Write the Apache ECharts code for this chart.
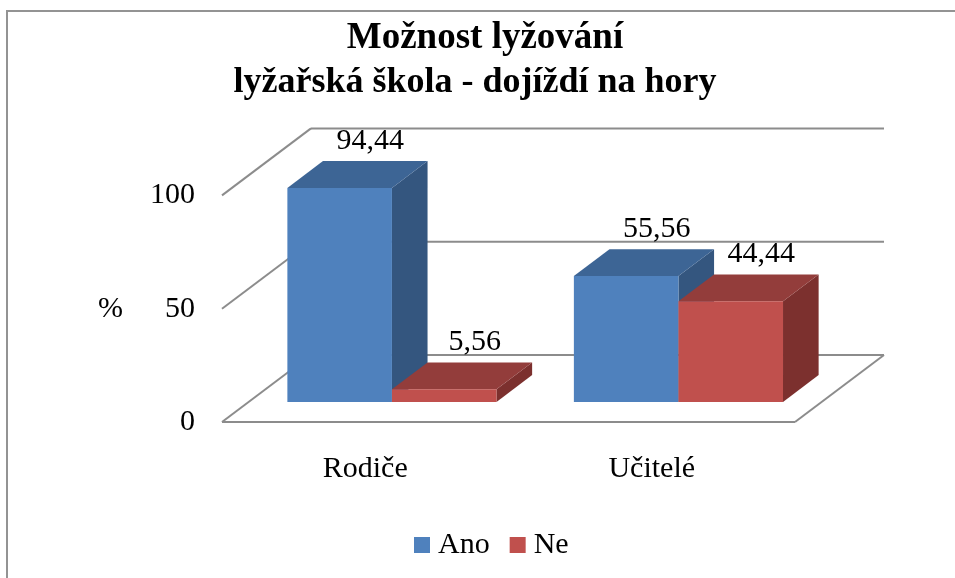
<!DOCTYPE html>
<html><head><meta charset="utf-8">
<script src="https://cdn.jsdelivr.net/npm/echarts@6/dist/echarts.min.js"></script>
<style>html,body{margin:0;padding:0;background:#fff}#c{width:955px;height:578px}</style>
</head><body><div id="c"></div>
<script>
const categories = ['Rodiče', 'Učitelé'];
const seriesNames = ['Ano', 'Ne'];
const anoValues = [94.44, 55.56];
const neValues = [5.56, 44.44];
const yTicks = [0, 50, 100];
const titleLines = ['Možnost lyžování', 'lyžařská škola - dojíždí na hory'];
const axisName = '%';

const FONT = '"Liberation Serif", "Times New Roman", serif';
const DEPTH = { x: 89, y: -67 };
const BAR_FRONT = 0.30, BAR_BACK = 0.70, BAR_FRAC = 0.365;
const GRID_COLOR = '#8c8c8c';
const palette = {
  Ano: { front: '#4F81BD', top: '#3D6595', side: '#34567F' },
  Ne:  { front: '#C0504D', top: '#933D3B', side: '#7C302E' }
};

function fmt(v) { return v.toFixed(2).replace('.', ','); }

function frameRender(params, api) {
  const band = api.size([1, 0])[0];
  const first = api.coord([0, 0]);
  const last = api.coord([categories.length - 1, 0]);
  const lx = first[0] - band / 2, rx = last[0] + band / 2;
  const children = [];
  const ls = { stroke: GRID_COLOR, lineWidth: 2 };
  yTicks.forEach(t => {
    const y = api.coord([0, t])[1];
    children.push({ type: 'line', shape: { x1: lx, y1: y, x2: lx + DEPTH.x, y2: y + DEPTH.y }, style: ls });
    children.push({ type: 'line', shape: { x1: lx + DEPTH.x, y1: y + DEPTH.y, x2: rx + DEPTH.x, y2: y + DEPTH.y }, style: ls });
  });
  const y0 = first[1];
  children.push({ type: 'line', shape: { x1: lx, y1: y0, x2: rx, y2: y0 }, style: ls });
  children.push({ type: 'line', shape: { x1: rx, y1: y0, x2: rx + DEPTH.x, y2: y0 + DEPTH.y }, style: ls });
  return { type: 'group', children };
}

function makeBarRender(sIdx) {
  const col = palette[seriesNames[sIdx]];
  return function (params, api) {
    const cat = api.value(0), val = api.value(1);
    const base = api.coord([cat, 0]);
    const topP = api.coord([cat, val]);
    const band = api.size([1, 0])[0];
    const w = band * BAR_FRAC;
    const xl = base[0] - w + sIdx * w, xr = xl + w;
    const f = { x: DEPTH.x * BAR_FRONT, y: DEPTH.y * BAR_FRONT };
    const b = { x: DEPTH.x * BAR_BACK, y: DEPTH.y * BAR_BACK };
    const yT = topP[1], yB = base[1];
    return {
      type: 'group',
      children: [
        { type: 'polygon', shape: { points: [[xr + f.x, yT + f.y], [xr + b.x, yT + b.y], [xr + b.x, yB + b.y], [xr + f.x, yB + f.y]] }, style: { fill: col.side } },
        { type: 'polygon', shape: { points: [[xl + f.x, yT + f.y], [xr + f.x, yT + f.y], [xr + b.x, yT + b.y], [xl + b.x, yT + b.y]] }, style: { fill: col.top } },
        { type: 'rect', shape: { x: xl + f.x, y: yT + f.y, width: w, height: yB - yT }, style: { fill: col.front } },
        { type: 'text', style: { text: fmt(val), x: (xl + xr) / 2 + b.x - 5, y: yT + b.y - 20, align: 'center', verticalAlign: 'middle', font: '30px ' + FONT, fill: '#000' } }
      ]
    };
  };
}

const chart = echarts.init(document.getElementById('c'), null, { renderer: 'canvas' });
const titleStyle1 = { fontFamily: FONT, fontWeight: 'bold', fontSize: 37, color: '#000' };
const titleStyle2 = { fontFamily: FONT, fontWeight: 'bold', fontSize: 36, color: '#000' };
chart.setOption({
  animation: false,
  backgroundColor: '#fff',
  graphic: [{ type: 'rect', shape: { x: 7, y: 11, width: 1000, height: 1000 }, style: { fill: 'none', stroke: '#939393', lineWidth: 2 }, silent: true }],
  title: [
    { text: titleLines[0], left: 485, top: 20, textAlign: 'center', padding: 0, textStyle: titleStyle1 },
    { text: titleLines[1], left: 475, top: 65, textAlign: 'center', padding: 0, textStyle: titleStyle2 }
  ],
  legend: {
    data: seriesNames, left: 414, top: 530, padding: 0, itemWidth: 16, itemHeight: 16, itemGap: 20, icon: 'rect',
    textStyle: { fontFamily: FONT, fontSize: 30, color: '#000', padding: [0, 0, 0, 3], lineHeight: 30 }
  },
  grid: { left: 222, right: 160, top: 195.4, bottom: 156, outerBoundsMode: 'none' },
  xAxis: {
    type: 'category', data: categories,
    axisLine: { show: false }, axisTick: { show: false }, splitLine: { show: false },
    axisLabel: { margin: 32, fontFamily: FONT, fontSize: 30, color: '#000' }
  },
  yAxis: {
    type: 'value', min: 0, max: 100, interval: 50,
    name: axisName, nameLocation: 'middle', nameRotate: 0, nameGap: 99,
    nameTextStyle: { fontFamily: FONT, fontSize: 30, color: '#000' },
    axisLine: { show: false }, axisTick: { show: false }, splitLine: { show: false },
    axisLabel: { margin: 27, fontFamily: FONT, fontSize: 30, color: '#000' }
  },
  series: [
    { type: 'custom', name: 'frame', renderItem: frameRender, data: [[0, 0]], silent: true, clip: false, z: 1 },
    { type: 'custom', name: seriesNames[0], renderItem: makeBarRender(0), data: anoValues.map((v, i) => [i, v]), itemStyle: { color: palette.Ano.front }, clip: false, z: 2 },
    { type: 'custom', name: seriesNames[1], renderItem: makeBarRender(1), data: neValues.map((v, i) => [i, v]), itemStyle: { color: palette.Ne.front }, clip: false, z: 3 }
  ]
});
</script></body></html>
